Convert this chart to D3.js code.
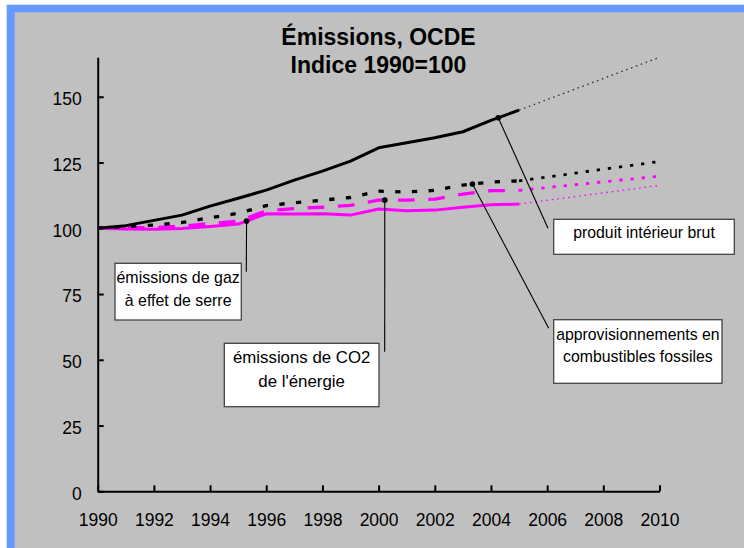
<!DOCTYPE html>
<html>
<head>
<meta charset="utf-8">
<script src="https://cdn.jsdelivr.net/npm/d3@7"></script>
<style>
    body { margin: 0; background: #fff; }
    svg { display: block; }
    text { font-family: "Liberation Sans", Arial, sans-serif; fill: #000; }
    .note text { font-family: "Liberation Sans Narrow", "Arial Narrow", "Liberation Sans", sans-serif; }
</style>
</head>
<body>
<script>
// observed years and the straight projection to 2010
const years = d3.range(1990, 2006)
const projYears = [2005, 2010]
const xTicks = d3.range(1990, 2011, 2)
const yTicks = [0, 25, 50, 75, 100, 125, 150]

const gdp = [100, 101, 103, 105, 108.4, 111.4, 114.5, 118.3, 121.7, 125.5, 130.6, 132.5, 134.4, 136.7, 141, 144.9]
const gdpProj = [144.9, 165]
const fossil = [100, 100.6, 101.2, 102.2, 104, 105.7, 108.6, 109.7, 110.7, 111.7, 114.1, 113.8, 114.4, 116.4, 117.6, 118]
const fossilProj = [118, 125.4]
const ghg = [100, 100.2, 100.3, 100.8, 101.8, 102.7, 106.6, 107.5, 108, 108.7, 110.7, 110.7, 111.1, 113, 114.3, 114.4]
const ghgProj = [114.4, 119.8]
const co2 = [100, 99.7, 99.6, 99.9, 100.7, 101.6, 105.5, 105.4, 105.5, 105, 107.3, 106.7, 106.9, 108, 108.9, 109.2]
const co2Proj = [109.2, 116.3]

const title = ['Émissions, OCDE', 'Indice 1990=100']

const width = 744
const height = 548

const x = d3.scaleLinear().domain([1990, 2010]).range([97.7, 659.5])
const y = d3.scaleLinear().domain([0, 165]).range([491.3, 57.3])

const series = [
    { t: years, v: co2, color: '#ff00ff', w: 3, dash: null },
    { t: years, v: ghg, color: '#ff00ff', w: 3.3, dash: '16.7,13.6' },
    { t: years, v: fossil, color: '#000', w: 3.3, dash: '5.3,11.4' },
    { t: years, v: gdp, color: '#000', w: 3, dash: null },
    { t: projYears, v: co2Proj, color: '#ff00ff', w: 1.3, dash: '1.6,3.9' },
    { t: projYears, v: ghgProj, color: '#ff00ff', w: 2.8, dash: '3.3,7.9' },
    { t: projYears, v: fossilProj, color: '#000', w: 2.8, dash: '3.3,7.9' },
    { t: projYears, v: gdpProj, color: '#333', w: 1.3, dash: '1.6,3.6' }
]

// label boxes with their pointer
const notes = [
    { lines: ['produit intérieur brut'], len: [141.6], base: [238.3],
      on: gdp, year: 2004.26, end: [548, 228.3], box: [553.7, 219.3, 180.6, 35] },
    { lines: ['approvisionnements en', 'combustibles fossiles'], len: [163.4, 149.7], base: [340, 362.3],
      on: fossil, year: 2003.34, end: [548.7, 328.3], box: [553.7, 319.7, 168.3, 63.6] },
    { lines: ['émissions de CO2', "de l'énergie"], len: [137.3, 86.7], base: [363.3, 386.7],
      on: ghg, year: 2000.22, end: [384.7, 351.7], box: [224.3, 343.3, 154.7, 63.4] },
    { lines: ['émissions de gaz', 'à effet de serre'], len: [123.3, 106.7], base: [283.3, 305.7],
      on: co2, year: 1995.3, end: [246.3, 271.7], box: [115, 263.3, 126.3, 56.7] }
]

const svg = d3
    .select('body')
    .append('svg')
    .attr('width', width)
    .attr('height', height)

svg.append('rect')
    .attr('width', width)
    .attr('height', height)
    .attr('fill', '#fff')
svg.append('rect')
    .attr('x', 6.7)
    .attr('y', 4.7)
    .attr('width', width)
    .attr('height', height)
    .attr('fill', '#6699ff')
svg.append('rect')
    .attr('x', 14.7)
    .attr('y', 12.3)
    .attr('width', width)
    .attr('height', height)
    .attr('fill', '#c0c0c0')

svg.append('g')
    .selectAll('text')
    .data(title)
    .enter().append('text')
    .attr('x', 378.5)
    .attr('y', (d, i) => 45 + i * 28)
    .attr('text-anchor', 'middle')
    .style('font-size', '23px')
    .style('font-weight', 'bold')
    .text(d => d)

const yAxis = svg.append('g')
    .attr('transform', `translate(${x(1990)},0)`)
    .call(d3.axisLeft(y).tickValues(yTicks).tickSizeInner(-6).tickSizeOuter(0).tickPadding(16))
const xAxis = svg.append('g')
    .attr('transform', `translate(0,${y(0)})`)
    .call(d3.axisBottom(x).tickValues(xTicks).tickFormat(d3.format('d')).tickSizeInner(-6).tickSizeOuter(0).tickPadding(22.3))

for (const axis of [yAxis, xAxis]) {
    axis.selectAll('path, line').attr('stroke', '#000').attr('stroke-width', 2)
    axis.selectAll('text')
        .style('font-size', '17.5px')
        .style('font-family', '"Liberation Sans", Arial, sans-serif')
        .attr('fill', '#000')
}
yAxis.selectAll('text').attr('dy', '0.45em')

const line = d3.line()
    .x(d => x(d[0]))
    .y(d => y(d[1]))

svg.append('g')
    .selectAll('path')
    .data(series)
    .enter().append('path')
    .attr('d', s => line(d3.zip(s.t, s.v)))
    .attr('fill', 'none')
    .attr('stroke', s => s.color)
    .attr('stroke-width', s => s.w)
    .attr('stroke-dasharray', s => s.dash)
    .attr('stroke-linejoin', 'round')

const anchor = n => [x(n.year), y(d3.scaleLinear().domain(years).range(n.on)(n.year))]

const note = svg.append('g')
    .attr('class', 'note')
    .selectAll('g')
    .data(notes)
    .enter().append('g')

note.append('line')
    .attr('x1', n => anchor(n)[0])
    .attr('y1', n => anchor(n)[1])
    .attr('x2', n => n.end[0])
    .attr('y2', n => n.end[1])
    .attr('stroke', '#000')
    .attr('stroke-width', 1.1)

note.append('circle')
    .attr('cx', n => anchor(n)[0])
    .attr('cy', n => anchor(n)[1])
    .attr('r', 2.8)
    .attr('fill', '#000')

note.append('rect')
    .attr('x', n => n.box[0])
    .attr('y', n => n.box[1])
    .attr('width', n => n.box[2])
    .attr('height', n => n.box[3])
    .attr('fill', '#fff')
    .attr('stroke', '#444')
    .attr('stroke-width', 1.3)

note.each(function (n) {
    d3.select(this)
        .selectAll('text')
        .data(n.lines)
        .enter().append('text')
        .attr('x', n.box[0] + n.box[2] / 2)
        .attr('y', (d, i) => n.base[i])
        .attr('text-anchor', 'middle')
        .attr('textLength', (d, i) => n.len[i])
        .attr('lengthAdjust', 'spacingAndGlyphs')
        .style('font-size', '17px')
        .text(d => d)
})
</script>
</body>
</html>
